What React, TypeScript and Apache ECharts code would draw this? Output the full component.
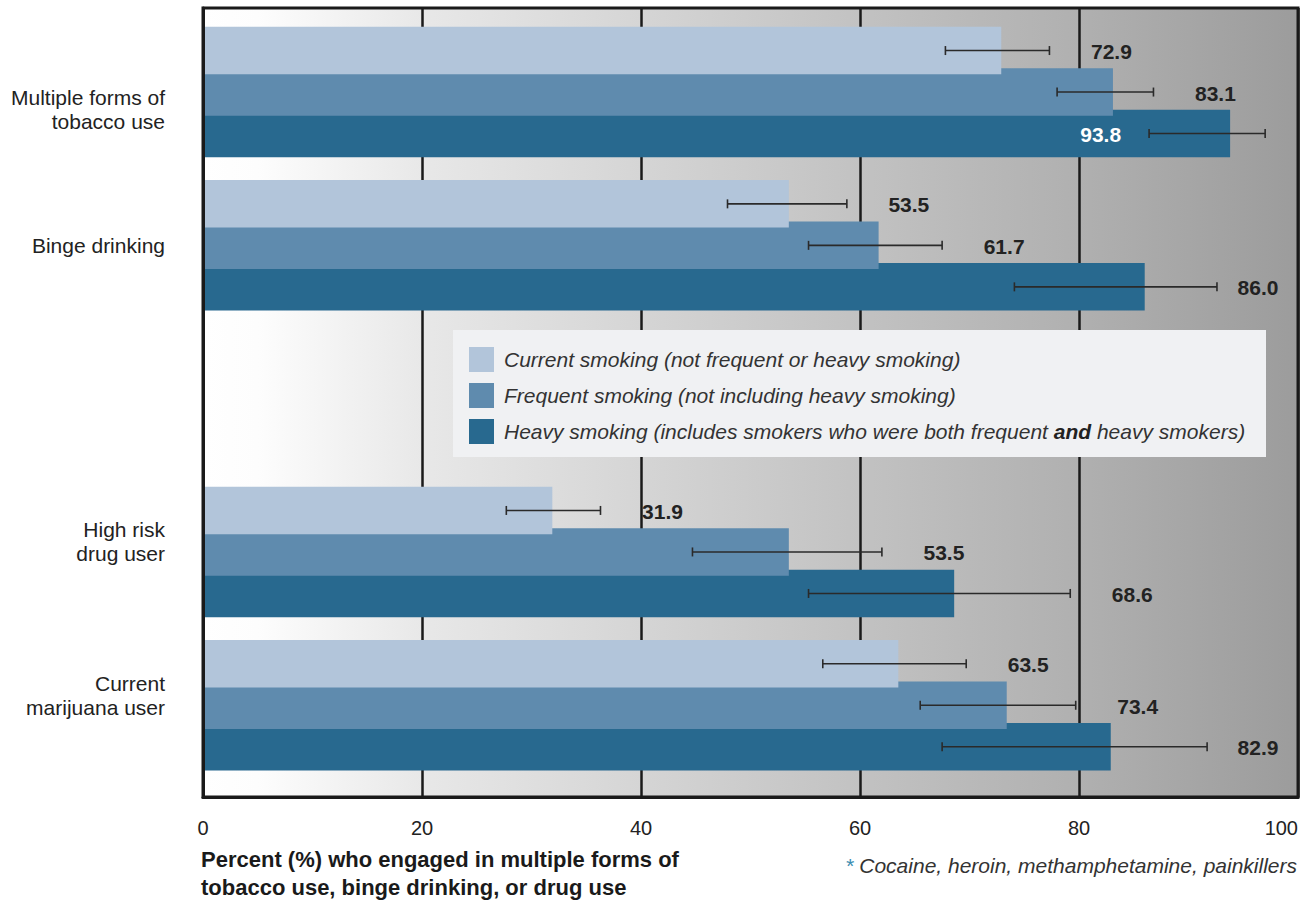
import React, { useEffect, useRef } from "react";
import * as echarts from "echarts";

const categories = [
  "Multiple forms of\ntobacco use",
  "Binge drinking",
  "",
  "High risk\ndrug user",
  "Current\nmarijuana user",
];

const seriesNames = [
  "Current smoking (not frequent or heavy smoking)",
  "Frequent smoking (not including heavy smoking)",
  "Heavy smoking (includes smokers who were both frequent and heavy smokers)",
];

const currentValues = [72.9, 53.5, null, 31.9, 63.5];
const currentLow = [67.8, 47.9, null, 27.7, 56.6];
const currentHigh = [77.3, 58.8, null, 36.3, 69.7];

const frequentValues = [83.1, 61.7, null, 53.5, 73.4];
const frequentLow = [78.0, 55.3, null, 44.7, 65.5];
const frequentHigh = [86.8, 67.5, null, 62.0, 79.7];

const heavyValues = [93.8, 86.0, null, 68.6, 82.9];
const heavyLow = [86.4, 74.1, null, 55.3, 67.5];
const heavyHigh = [97.0, 92.6, null, 79.2, 91.7];

const xTicks = [0, 20, 40, 60, 80, 100];

const axisTitle = "Percent (%) who engaged in multiple forms of\ntobacco use, binge drinking, or drug use";
const footnote = "Cocaine, heroin, methamphetamine, painkillers";

const colors = ["#b2c5da", "#5f8bae", "#28698f"];
const FONT = "'Liberation Sans', Arial, sans-serif";
const BAR_W = 47.5;
const BAR_GAP = -6;

export default function App() {
  const ref = useRef<HTMLDivElement>(null);

  useEffect(() => {
    document.body.style.margin = "0";
    const chart = echarts.init(ref.current!, null, { renderer: "svg" });

    const valueSets = [currentValues, frequentValues, heavyValues];
    const lowSets = [currentLow, frequentLow, heavyLow];
    const highSets = [currentHigh, frequentHigh, heavyHigh];

    const step = BAR_W + BAR_GAP;
    const offsets = [-step, 0, step];

    const errData: any[] = [];
    valueSets.forEach((vals, s) => {
      vals.forEach((v, i) => {
        if (v == null) return;
        errData.push([i, lowSets[s][i], highSets[s][i], v, s]);
      });
    });

    // category label layout: the first label sits lower, the last two a bit higher, as in the original
    const formatCategory = (value: string, index: number) => {
      if (!value) return "";
      if (index === 0) return "{top| }\n" + value;
      if (index >= 3) return value + "\n{bot| }";
      return value;
    };

    const option: any = {
      animation: false,
      textStyle: { fontFamily: FONT },
      grid: [
        {
          left: 203,
          right: 11,
          top: 8,
          bottom: 105,
          show: true,
          backgroundColor: new echarts.graphic.LinearGradient(0, 0, 1, 0, [
            { offset: 0, color: "#ffffff" },
            { offset: 0.05, color: "#fdfdfd" },
            { offset: 0.2, color: "#e8e8e8" },
            { offset: 0.41, color: "#d4d4d4" },
            { offset: 0.6, color: "#c2c2c2" },
            { offset: 0.8, color: "#b0b0b0" },
            { offset: 1, color: "#9c9c9c" },
          ]),
          borderColor: "#1a1a1a",
          borderWidth: 3,
        },
        {
          left: 203,
          right: 11,
          top: 15.4,
          bottom: 902 - 781.9,
        },
      ],
      xAxis: [
        {
          gridIndex: 0,
          type: "value",
          min: 0,
          max: 100,
          interval: 20,
          axisLine: { show: true, lineStyle: { color: "#1a1a1a", width: 3 } },
          axisTick: { show: false },
          splitLine: { show: true, lineStyle: { color: "#1a1a1a", width: 2.5 } },
          axisLabel: {
            show: true,
            margin: 21,
            fontSize: 20,
            color: "#222",
            fontFamily: FONT,
            alignMaxLabel: "right",
            formatter: (v: number) => (xTicks.includes(v) ? String(v) : ""),
          },
        },
        {
          gridIndex: 1,
          type: "value",
          min: 0,
          max: 100,
          show: false,
        },
      ],
      yAxis: [
        {
          gridIndex: 0,
          type: "category",
          data: categories,
          inverse: true,
          z: 10,
          axisLine: { show: true, lineStyle: { color: "#1a1a1a", width: 3 } },
          axisTick: { show: false },
          axisLabel: { show: false },
          splitLine: { show: false },
        },
        {
          gridIndex: 1,
          type: "category",
          data: categories,
          inverse: true,
          axisLine: { show: false },
          axisTick: { show: false },
          splitLine: { show: false },
          axisLabel: {
            show: true,
            margin: 38,
            fontSize: 21,
            lineHeight: 24,
            color: "#222",
            fontFamily: FONT,
            align: "right",
            formatter: formatCategory,
            rich: {
              top: { fontSize: 21, lineHeight: 34, fontFamily: FONT },
              bot: { fontSize: 21, lineHeight: 20, fontFamily: FONT },
            },
          },
        },
      ],
      legend: {
        left: 464,
        top: 342,
        orient: "vertical",
        itemWidth: 25,
        itemHeight: 25,
        itemGap: 11,
        icon: "rect",
        data: seriesNames,
        selectedMode: false,
        z: 6,
        textStyle: {
          fontSize: 21,
          fontStyle: "italic",
          color: "#333",
          fontFamily: FONT,
          padding: [0, 0, 0, 5],
          rich: {
            b: { fontSize: 21, fontStyle: "italic", fontWeight: "bold", color: "#222", fontFamily: FONT },
          },
        },
        formatter: (name: string) => name.replace(" and ", " {b|and} "),
      },
      graphic: [
        {
          type: "rect",
          z: 5,
          shape: { x: 453, y: 330, width: 813, height: 127 },
          style: { fill: "#f0f1f3" },
        },
        {
          type: "text",
          left: 201,
          top: 845,
          z: 5,
          style: {
            text: axisTitle,
            fontSize: 22,
            fontWeight: "bold",
            lineHeight: 28,
            fill: "#1a1a1a",
            fontFamily: FONT,
          },
        },
        {
          type: "text",
          right: 12,
          top: 855,
          z: 5,
          style: {
            text: "{a|*} " + footnote,
            fontSize: 21,
            fontStyle: "italic",
            fill: "#333",
            fontFamily: FONT,
            rich: {
              a: { fontSize: 21, fontStyle: "italic", fill: "#3a8bb0", fontFamily: FONT },
            },
          },
        },
      ],
      series: [
        ...valueSets.map((vals, s) => ({
          name: seriesNames[s],
          type: "bar",
          xAxisIndex: 1,
          yAxisIndex: 1,
          data: vals.map((v) => (v == null ? "-" : v)),
          barWidth: BAR_W,
          barGap: (BAR_GAP / BAR_W) * 100 + "%",
          itemStyle: { color: colors[s] },
          z: 4 - s,
        })),
        {
          type: "custom",
          xAxisIndex: 1,
          yAxisIndex: 1,
          z: 6,
          data: errData,
          encode: { x: [1, 2], y: 0 },
          renderItem: (params: any, api: any) => {
            const cat = api.value(0);
            const lo = api.value(1);
            const hi = api.value(2);
            const val = api.value(3);
            const s = api.value(4);
            const pLo = api.coord([lo, cat]);
            const pHi = api.coord([hi, cat]);
            const y = pLo[1] + offsets[s];
            const cap = 4.5;
            const stroke = { stroke: "#2a2a2a", lineWidth: 1.6 };
            const right = params.coordSys.x + params.coordSys.width;
            let tx = pHi[0] + 62;
            let align = "center";
            let fill = "#222";
            if (pHi[0] + 62 > right - 10) {
              tx = pLo[0] - 28;
              align = "right";
              fill = "#ffffff";
            } else {
              tx = Math.min(tx, right - 40);
            }
            return {
              type: "group",
              children: [
                { type: "line", shape: { x1: pLo[0], y1: y, x2: pHi[0], y2: y }, style: stroke },
                { type: "line", shape: { x1: pLo[0], y1: y - cap, x2: pLo[0], y2: y + cap }, style: stroke },
                { type: "line", shape: { x1: pHi[0], y1: y - cap, x2: pHi[0], y2: y + cap }, style: stroke },
                {
                  type: "text",
                  style: {
                    text: Number(val).toFixed(1),
                    x: tx,
                    y: y + 1,
                    align,
                    verticalAlign: "middle",
                    fill,
                    fontSize: 21,
                    fontWeight: "bold",
                    fontFamily: FONT,
                  },
                },
              ],
            };
          },
        },
      ],
    };

    chart.setOption(option);
    return () => chart.dispose();
  }, []);

  return <div ref={ref} style={{ width: 1309, height: 902 }} />;
}
